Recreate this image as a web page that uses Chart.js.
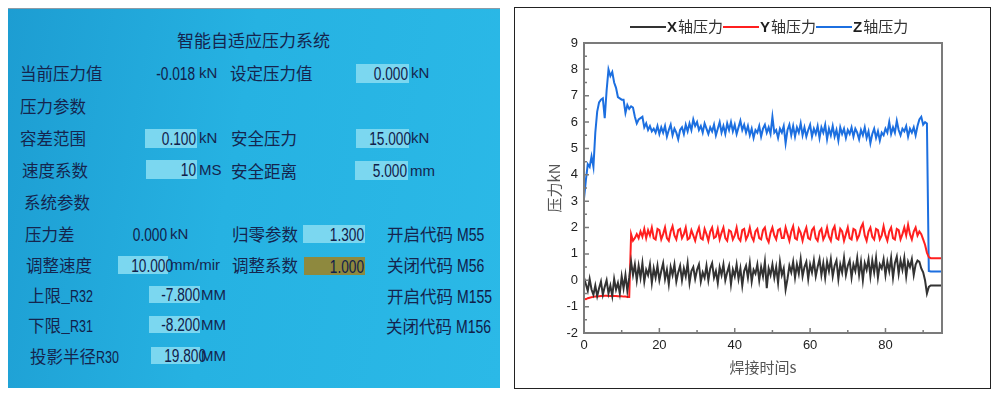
<!DOCTYPE html>
<html>
<head>
<meta charset="utf-8">
<script src="https://cdn.jsdelivr.net/npm/chart.js@4.4.1/dist/chart.umd.min.js"></script>
<style>
body { margin: 0; width: 1000px; height: 395px; background: #fff; position: relative; overflow: hidden; font-family: "Noto Sans CJK SC", sans-serif; }
#screen { position: absolute; left: 8px; top: 8px; width: 492px; height: 380px; box-sizing: border-box;
  background: linear-gradient(100deg, #1d9dd2 0%, #26b2e2 45%, #2bb9e7 100%); border-top: 1px solid #8c9ba6; }
.t { position: absolute; line-height: 20px; height: 20px; white-space: nowrap; color: #15254e; font-size: 16.5px; }
.u { font-family: "Liberation Sans", Arial, sans-serif; font-size: 15px; }
.box { position: absolute; background: #7bd7f0; text-align: right; padding-right: 1px; box-sizing: border-box; color: #15254e; white-space: nowrap; }
.olive { background: #8e893e; }
/* narrow screen digits */
.sq { display: inline-block; font-family: "Liberation Sans", Arial, sans-serif; font-size: 18px; color: #10204a; transform: scaleX(0.76); transform-origin: right center; }
.sql { display: inline-block; font-family: "Liberation Sans", Arial, sans-serif; font-size: 18px; color: #10204a; transform: scaleX(0.78); transform-origin: left center; }
#plot { position: absolute; left: 514px; top: 7px; width: 477px; height: 382px; border: 1px solid #222; box-sizing: border-box; background: #fff; }
</style>
</head>
<body>
<div id="screen"></div>
<div class="t" style="left:177px;top:30px;font-size:17px">智能自适应压力系统</div>

<div class="t" style="left:20px;top:63px">当前压力值</div>
<div class="t" style="right:805px;top:63px"><span class="sq">-0.018</span></div>
<div class="t u" style="left:199px;top:63px">kN</div>
<div class="t" style="left:230px;top:63px">设定压力值</div>
<div class="box" style="left:356px;top:64px;width:53px;height:19px;line-height:19px"><span class="sq">0.000</span></div>
<div class="t u" style="left:411px;top:63px">kN</div>

<div class="t" style="left:20px;top:96px">压力参数</div>

<div class="t" style="left:20px;top:128px">容差范围</div>
<div class="box" style="left:145px;top:129px;width:52px;height:19px;line-height:19px"><span class="sq">0.100</span></div>
<div class="t u" style="left:199px;top:128px">kN</div>
<div class="t" style="left:231px;top:128px">安全压力</div>
<div class="box" style="left:356px;top:129px;width:53px;height:19px;line-height:19px"><span class="sq">15.000</span></div>
<div class="t u" style="left:411px;top:128px">kN</div>

<div class="t" style="left:22px;top:160px">速度系数</div>
<div class="box" style="left:146px;top:160px;width:51px;height:19px;line-height:19px"><span class="sq">10</span></div>
<div class="t u" style="left:199px;top:160px">MS</div>
<div class="t" style="left:231px;top:161px">安全距离</div>
<div class="box" style="left:355px;top:161px;width:53px;height:19px;line-height:19px"><span class="sq">5.000</span></div>
<div class="t u" style="left:410px;top:161px">mm</div>

<div class="t" style="left:24px;top:192px">系统参数</div>

<div class="t" style="left:25px;top:224px">压力差</div>
<div class="t" style="right:833px;top:224px"><span class="sq">0.000</span></div>
<div class="t u" style="left:170px;top:224px">kN</div>
<div class="t" style="left:232px;top:224px">归零参数</div>
<div class="box" style="left:303px;top:225px;width:62px;height:18px;line-height:18px"><span class="sq">1.300</span></div>
<div class="t" style="left:387px;top:224px">开启代码 <span class="sql">M55</span></div>

<div class="t" style="left:26px;top:255px">调整速度</div>
<div class="box" style="left:118px;top:256px;width:50px;height:18px;line-height:18px"><span class="sq">10.000</span></div>
<div class="t u" style="left:170px;top:255px">mm/mir</div>
<div class="t" style="left:232px;top:255px">调整系数</div>
<div class="box olive" style="left:304px;top:257px;width:61px;height:18px;line-height:18px"><span class="sq">1.000</span></div>
<div class="t" style="left:387px;top:255px">关闭代码 <span class="sql">M56</span></div>

<div class="t" style="left:28px;top:285px">上限_<span class="sql" style="font-size:16px">R32</span></div>
<div class="box" style="left:149px;top:286px;width:51px;height:17px;line-height:17px"><span class="sq">-7.800</span></div>
<div class="t u" style="left:201px;top:285px">MM</div>
<div class="t" style="left:387px;top:286px">开启代码 <span class="sql">M155</span></div>

<div class="t" style="left:28px;top:315px">下限_<span class="sql" style="font-size:16px">R31</span></div>
<div class="box" style="left:149px;top:316px;width:51px;height:17px;line-height:17px"><span class="sq">-8.200</span></div>
<div class="t u" style="left:201px;top:315px">MM</div>
<div class="t" style="left:386px;top:316px">关闭代码 <span class="sql">M156</span></div>

<div class="t" style="left:30px;top:346px">投影半径<span class="sql" style="font-size:16px">R30</span></div>
<div class="box" style="left:151px;top:347px;width:49px;height:17px;line-height:17px"><span class="sq">19.800</span></div>
<div class="t u" style="left:201px;top:346px">MM</div>

<div id="plot"><canvas id="forceChart" width="475" height="380"></canvas></div>

<script>
// Welding force, sampled every 0.5 s from 0 to 95 s
const seriesNames = ['X轴压力', 'Y轴压力', 'Z轴压力'];
const seriesColors = ['#333333', '#ff1f1f', '#1c6fe0'];
const sampleStep = 0.5;

const xForce = [
  0.1, -0.15, -0.4, 0.05, -0.35, -0.55, -0.2, -0.6, -0.3, -0.05, -0.55, -0.25, 0.0, -0.5, -0.2, -0.6, 0.05, -0.35, -0.1, -0.5,
  0.15, -0.3, 0.2, -0.4, 0.1, 0.7, 0.2, 0.6, 0.0, 0.55, 0.1, 0.65, -0.05, 0.4, 0.2, 0.6, -0.1, 0.45, 0.1, 0.55,
  0.0, 0.35, 0.65, 0.05, 0.4, -0.15, 0.5, 0.2, 0.6, -0.05, 0.3, 0.55, 0.0, 0.45, 0.15, 0.65, -0.1, 0.35, 0.5, 0.05,
  0.4, 0.6, -0.05, 0.3, 0.1, 0.55, 0.0, 0.45, 0.65, 0.1, 0.35, -0.1, 0.5, 0.2, 0.6, 0.0, 0.3, 0.55, -0.15, 0.4,
  0.15, 0.6, 0.05, 0.45, -0.2, 0.35, 0.55, 0.1, 0.65, -0.05, 0.4, 0.25, 0.6, 0.0, 0.5, 0.15, 0.7, -0.3, 0.45, 0.2,
  0.6, 0.1, 0.5, -0.1, 0.7, 0.2, 0.45, -0.35, 0.05, 0.55, 0.3, 0.7, 0.1, 0.6, 0.25, 0.8, 0.15, 0.5, 0.7, 0.05,
  0.6, 0.3, 0.75, 0.15, 0.5, 0.8, 0.2, 0.65, 0.1, 0.7, 0.35, 0.8, 0.15, 0.55, 0.75, 0.05, 0.6, 0.3, 0.85, 0.2,
  0.55, 0.75, 0.1, 0.6, 0.35, 0.85, 0.2, 0.7, 0.0, 0.65, 0.4, 0.8, 0.15, 0.75, 0.3, 0.85, 0.1, 0.6, 0.45, 0.8,
  0.2, 0.7, 0.35, 0.85, 0.1, 0.65, 0.9, 0.25, 0.75, 0.4, 0.85, 0.15, 0.7, 0.5, 0.8, 0.2, 0.6, 0.75, 0.7, 0.45,
  0.3, 0.0, -0.5, -0.25, -0.2, -0.2, -0.2, -0.2, -0.2, -0.2, -0.2
];

const yForce = [
  -0.7, -0.72, -0.68, -0.66, -0.64, -0.63, -0.62, -0.62, -0.61, -0.6, -0.6, -0.59, -0.59, -0.6, -0.6, -0.59, -0.6, -0.6, -0.61, -0.61,
  -0.61, -0.62, -0.62, -0.63, -0.63, 1.75, 1.5, 1.6, 1.75, 1.6, 1.85, 1.65, 1.95, 1.6, 1.9, 1.7, 2.0, 1.6, 1.55, 1.95,
  1.9, 1.55, 1.75, 2.0, 1.6, 1.5, 1.85, 2.05, 1.7, 1.55, 1.9, 1.95, 1.6, 1.75, 2.0, 1.55, 1.6, 1.9, 1.7, 1.5,
  1.8, 2.0, 1.6, 1.55, 1.95, 1.75, 1.5, 1.85, 2.0, 1.6, 1.65, 1.95, 1.55, 1.8, 2.0, 1.6, 1.5, 1.9, 1.85, 1.55,
  1.7, 2.0, 1.6, 1.5, 1.9, 1.95, 1.55, 1.7, 2.0, 1.65, 1.5, 1.85, 1.95, 1.6, 1.55, 1.9, 2.0, 1.6, 1.45, 1.8,
  2.0, 1.7, 1.55, 1.9, 1.95, 1.6, 1.6, 2.0, 1.75, 1.5, 1.85, 2.05, 1.6, 1.55, 1.95, 1.8, 1.5, 1.8, 2.0, 1.6,
  1.55, 1.9, 2.0, 1.6, 1.5, 1.85, 1.95, 1.55, 1.7, 2.0, 1.65, 1.5, 1.9, 2.05, 1.6, 1.55, 1.95, 1.85, 1.5, 1.75,
  2.0, 1.6, 1.55, 1.95, 1.9, 1.55, 1.7, 2.0, 2.15, 1.7, 1.5, 1.85, 2.0, 1.65, 1.55, 1.95, 1.9, 1.55, 1.7, 2.05,
  1.7, 1.5, 1.85, 2.0, 1.6, 1.55, 1.95, 1.9, 1.55, 1.75, 2.0, 1.7, 2.1, 1.75, 1.55, 1.85, 2.0, 1.7, 1.85, 1.75,
  1.55, 1.35, 1.05, 0.88, 0.84, 0.84, 0.84, 0.84, 0.84, 0.84, 0.84
];

const zForce = [
  3.1, 3.8, 4.4, 4.3, 4.7, 4.3, 5.6, 6.4, 6.75, 6.85, 6.9, 6.15, 7.2, 8.0, 7.75, 7.9, 7.5, 7.3, 6.95, 6.9,
  6.85, 6.85, 6.35, 6.65, 6.5, 6.6, 6.55, 6.2, 5.95, 6.1, 6.15, 6.2, 5.8, 5.95, 5.7, 5.85, 5.65, 5.75, 5.6, 5.85,
  5.55, 5.8, 5.6, 5.85, 5.45, 5.7, 5.9, 5.5, 5.75, 5.6, 5.35, 5.7, 5.8, 5.55, 5.9, 5.65, 5.95, 5.7, 6.1, 5.85,
  6.0, 5.7, 5.85, 5.6, 5.95, 5.75, 5.55, 5.8, 5.65, 5.9, 5.5, 5.75, 6.0, 5.6, 5.85, 5.55, 5.95, 5.7, 6.0, 5.65,
  5.9, 5.55, 5.8, 6.05, 5.7, 5.9, 5.6, 5.85, 5.5, 5.75, 5.4, 5.7, 5.6, 5.85, 5.45, 5.75, 5.9, 5.6, 5.8, 5.55,
  6.2, 5.6, 5.7, 5.4, 5.75, 5.6, 5.85, 5.2, 5.7, 5.9, 5.5, 5.85, 5.45, 5.8, 5.6, 5.95, 5.5, 5.8, 5.45, 5.7,
  5.9, 5.45, 5.75, 5.55, 5.85, 5.4, 5.8, 5.6, 5.9, 5.35, 5.75, 5.5, 5.85, 5.45, 5.7, 5.3, 5.8, 5.55, 5.75, 5.4,
  5.7, 5.55, 5.8, 5.45, 5.75, 5.6, 5.35, 5.7, 5.5, 5.8, 5.4, 5.65, 5.2, 5.55, 5.75, 5.4, 5.65, 5.3, 5.6, 5.5,
  5.75, 5.6, 6.0, 5.55, 5.8, 5.6, 6.05, 5.7, 5.5, 5.75, 5.65, 5.85, 5.45, 5.75, 5.6, 5.8, 5.5, 5.85, 6.1, 6.2,
  5.9, 6.0, 5.95, 0.35, 0.33, 0.33, 0.33, 0.33, 0.33, 0.33, 0.33
];

const xTicks = { min: 0, max: 95, step: 20, minor: 10 };
const yTicks = { min: -2, max: 9, step: 1, minor: 0.5 };

const times = zForce.map((_, i) => i * sampleStep);
const toPoints = vals => vals.map((v, i) => ({ x: times[i], y: v }));

// frame, inward ticks and the legend row
const framePlugin = {
    id: 'frame',
    afterDraw(chart) {
        const { ctx, chartArea: a, scales: { x, y } } = chart;
        ctx.save();
        ctx.strokeStyle = '#7b7b7b';
        ctx.lineWidth = 2;
        ctx.strokeRect(a.left, a.top, a.right - a.left, a.bottom - a.top);
        ctx.lineWidth = 1.5;
        ctx.beginPath();
        for (let v = yTicks.min; v <= yTicks.max; v += yTicks.minor) {
            const p = y.getPixelForValue(v);
            const len = Number.isInteger(v) ? 5 : 3;
            ctx.moveTo(a.left, p);
            ctx.lineTo(a.left + len, p);
        }
        for (let v = xTicks.min; v <= xTicks.max; v += xTicks.minor) {
            const p = x.getPixelForValue(v);
            const len = v % xTicks.step === 0 ? 5 : 3;
            ctx.moveTo(p, a.bottom);
            ctx.lineTo(p, a.bottom - len);
        }
        ctx.stroke();

        // legend: line sample, then label, all in one row
        let lx = 115;
        const ly = 19;
        const base = 24;
        ctx.textBaseline = 'alphabetic';
        chart.data.datasets.forEach(ds => {
            ctx.strokeStyle = ds.borderColor;
            ctx.lineWidth = 2;
            ctx.beginPath();
            ctx.moveTo(lx, ly);
            ctx.lineTo(lx + 36, ly);
            ctx.stroke();
            lx += 37;
            ctx.fillStyle = '#1e1e1e';
            ctx.font = 'bold 15px "Liberation Sans", Arial';
            const head = ds.label.charAt(0);
            ctx.fillText(head, lx, base);
            lx += ctx.measureText(head).width + 1;
            ctx.font = '15px "Noto Sans CJK SC"';
            ctx.fillStyle = '#333';
            const rest = ds.label.slice(1);
            ctx.fillText(rest, lx, base);
            lx += ctx.measureText(rest).width;
        });
        ctx.restore();
    }
};

const ctx = document.getElementById('forceChart').getContext('2d');
const forceChart = new Chart(ctx, {
    type: 'line',
    data: {
        datasets: [xForce, yForce, zForce].map((vals, i) => ({
            label: seriesNames[i],
            data: toPoints(vals),
            borderColor: seriesColors[i],
            borderWidth: 2,
            pointRadius: 0,
            tension: 0,
            fill: false
        }))
    },
    options: {
        responsive: false,
        animation: false,
        layout: { padding: { top: 35, right: 48, left: 0, bottom: 0 } },
        plugins: {
            legend: { display: false },
            tooltip: { enabled: false }
        },
        scales: {
            x: {
                type: 'linear',
                min: xTicks.min,
                max: xTicks.max,
                grid: { display: false, drawTicks: false },
                border: { display: false },
                ticks: {
                    stepSize: xTicks.step,
                    includeBounds: false,
                    padding: 5,
                    color: '#222',
                    font: { family: '"Liberation Sans", Arial', size: 13 }
                },
                title: {
                    display: true,
                    text: '焊接时间s',
                    color: '#555',
                    padding: { top: 0, bottom: 12 },
                    font: { family: '"Noto Sans CJK SC"', size: 15 }
                },
                afterFit(scale) { scale.height = 55; }
            },
            y: {
                min: yTicks.min,
                max: yTicks.max,
                grid: { display: false, drawTicks: false },
                border: { display: false },
                ticks: {
                    stepSize: yTicks.step,
                    padding: 6,
                    color: '#222',
                    font: { family: '"Liberation Sans", Arial', size: 13 }
                },
                title: {
                    display: true,
                    text: '压力kN',
                    color: '#555',
                    padding: { top: 30, bottom: 0 },
                    font: { family: '"Noto Sans CJK SC"', size: 15 }
                },
                afterFit(scale) { scale.width = 69; }
            }
        }
    },
    plugins: [framePlugin]
});
</script>
</body>
</html>
